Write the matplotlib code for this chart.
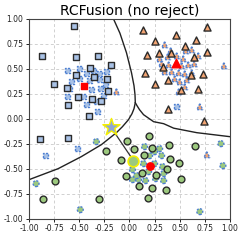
import matplotlib
matplotlib.use("Agg")
import matplotlib.pyplot as plt
import numpy as np

# training points per class
sq_x = [-0.55, -0.87, -0.53, -0.31, -0.18, -0.39, -0.75, -0.53, -0.35, -0.22,
        -0.62, -0.21, -0.51, -0.37, -0.28, -0.61, -0.40, -0.89, -0.61]
sq_y = [0.93, 0.63, 0.62, 0.63, 0.54, 0.51, 0.35, 0.44, 0.42, 0.40,
        0.31, 0.28, 0.22, 0.20, 0.18, 0.14, 0.03, -0.20, -0.19]

tri_x = [0.13, 0.77, 0.25, 0.46, 0.66, 0.77, 0.17, 0.29, 0.41, 0.55, 0.64,
         0.33, 0.15, 0.61, 0.73, 0.25, 0.38, 0.51, 0.68, 0.38, 0.74]
tri_y = [0.89, 0.92, 0.78, 0.84, 0.79, 0.67, 0.64, 0.66, 0.66, 0.73, 0.62,
         0.52, 0.46, 0.44, 0.45, 0.35, 0.39, 0.29, 0.30, 0.10, -0.02]

circ_x = [0.19, -0.02, 0.045, 0.22, 0.39, -0.23, 0.655, 0.14, -0.085, 0.40, 0.49,
          0.37, 0.12, 0.26, -0.035, -0.74, 0.51, 0.09, 0.22, 0.36, -0.86, -0.30, 0.18]
circ_y = [-0.17, -0.22, -0.30, -0.29, -0.26, -0.32, -0.27, -0.36, -0.41, -0.40, -0.44,
          -0.50, -0.54, -0.56, -0.57, -0.62, -0.60, -0.67, -0.69, -0.71, -0.80, -0.80, -0.79]

# predicted points (dashed blue edge)
psq_x = [-0.62, -0.50, -0.43, -0.36, -0.30, -0.23, -0.58, -0.50, -0.40, -0.30, -0.24,
         -0.62, -0.60, -0.46, -0.38, -0.29, -0.26, -0.33, -0.43, -0.32, -0.52, -0.84, 0.47]
psq_y = [0.48, 0.50, 0.45, 0.48, 0.45, 0.47, 0.37, 0.40, 0.38, 0.39, 0.34,
         0.22, 0.30, 0.22, 0.29, 0.30, 0.23, 0.17, 0.14, 0.07, -0.30, -0.37, 0.12]

ptri_x = [0.35, 0.41, 0.56, 0.62, 0.685, 0.30, 0.38, 0.47, 0.535, 0.32, 0.52, 0.585,
          0.645, 0.35, 0.42, 0.49, 0.55, 0.62, 0.45, 0.50, 0.57, 0.49, 0.55, 0.39,
          -0.13, 0.94, 0.70, 0.77]
ptri_y = [0.74, 0.68, 0.68, 0.69, 0.63, 0.60, 0.62, 0.63, 0.60, 0.55, 0.53, 0.54,
          0.55, 0.47, 0.47, 0.46, 0.45, 0.46, 0.40, 0.37, 0.39, 0.27, 0.32, 0.54,
          0.27, 0.53, 0.12, -0.36]

pcirc_x = [0.15, 0.30, 0.25, 0.32, 0.20, 0.14, 0.25, 0.33, 0.03, 0.34, 0.03, 0.16,
           0.34, 0.09, 0.26, 0.07, 0.19, -0.33, -0.93, -0.49, 0.70, 0.91, 0.93]
pcirc_y = [-0.28, -0.30, -0.33, -0.37, -0.37, -0.45, -0.45, -0.48, -0.51, -0.55, -0.61, -0.62,
           -0.62, -0.61, -0.60, -0.57, -0.53, -0.23, -0.65, -0.91, -0.93, -0.25, -0.47]

# class centres
cen_sq = (-0.45, 0.33)
cen_tri = (0.46, 0.555)
cen_circ = (0.205, -0.47)

# query sample and its prototype
star = (-0.185, -0.085)
query = (0.04, -0.42)

# decision boundaries
b1_x = [-0.16, -0.095, -0.03, 0.02, 0.045, 0.055, 0.058, 0.045, 0.025, -0.01, -0.07,
        -0.13, -0.28, -0.48, -0.71, -1.0]
b1_y = [1.0, 0.855, 0.66, 0.46, 0.33, 0.24, 0.16, 0.10, 0.05, -0.01, -0.08,
        -0.14, -0.26, -0.38, -0.50, -0.61]
b2_x = [0.058, 0.075, 0.10, 0.14, 0.24, 0.34, 0.44, 0.67, 1.0]
b2_y = [0.16, 0.13, 0.09, 0.04, -0.03, -0.05, -0.095, -0.14, -0.18]

c_sq = "#a9c2e6"
c_tri = "#f2a472"
c_circ = "#9cc97e"
c_edge = "#2b2b2b"
c_dash = "#4d7fd1"

fig = plt.figure(figsize=(2.4, 2.4), dpi=100)
ax = fig.add_axes([0.121, 0.089, 0.837, 0.833])

ax.plot(b1_x, b1_y, color="#222222", lw=1.0, zorder=2)
ax.plot(b2_x, b2_y, color="#222222", lw=1.0, zorder=2)

dash = (0, (1.5, 1.0))
ax.scatter(psq_x, psq_y, marker="s", s=14, c=c_sq, edgecolors=c_dash, linewidths=1.0, linestyles=dash, zorder=3)
ax.scatter(ptri_x, ptri_y, marker="^", s=18, c=c_tri, edgecolors=c_dash, linewidths=1.0, linestyles=dash, zorder=3)
ax.scatter(pcirc_x, pcirc_y, marker="o", s=18, c=c_circ, edgecolors=c_dash, linewidths=1.0, linestyles=dash, zorder=3)

ax.scatter(sq_x, sq_y, marker="s", s=16, c=c_sq, edgecolors=c_edge, linewidths=1.0, zorder=4)
ax.scatter(tri_x, tri_y, marker="^", s=26, c=c_tri, edgecolors=c_edge, linewidths=1.0, zorder=4)
ax.scatter(circ_x, circ_y, marker="o", s=24, c=c_circ, edgecolors=c_edge, linewidths=1.0, zorder=4)

ax.scatter(*cen_sq, marker="s", s=22, c="red", zorder=5)
ax.scatter(*cen_tri, marker="^", s=38, c="red", zorder=5)
ax.scatter(*cen_circ, marker="o", s=28, c="red", zorder=5)

ax.plot([star[0], query[0]], [star[1], query[1]], color="#333333", lw=0.9, zorder=5)
ax.scatter(*query, marker="o", s=60, c=c_circ, edgecolors="#f5f000", linewidths=1.2, zorder=6)
ax.scatter(*star, marker="*", s=170, c="#8ea6d6", edgecolors="#f5f000", linewidths=1.0, zorder=6)

ax.set_xlim(-1.0, 1.0)
ax.set_ylim(-1.0, 1.0)
ticks = [-1.0, -0.75, -0.5, -0.25, 0.0, 0.25, 0.5, 0.75, 1.0]
ax.set_xticks(ticks)
ax.set_yticks(ticks)
ax.set_xticklabels([f"{t:.2f}" for t in ticks])
ax.set_yticklabels([f"{t:.2f}" for t in ticks])
ax.tick_params(labelsize=5.5, length=2.5, width=0.7, pad=1.5, colors="#222222")
ax.grid(True, linestyle=(0, (3, 2.5)), color="#d0d0d0", lw=0.7)
ax.set_axisbelow(True)
for sp in ax.spines.values():
    sp.set_color("#444444")
    sp.set_linewidth(0.8)
ax.set_title("RCFusion (no reject)", fontsize=10, pad=3)

fig.savefig("out.png", dpi=100)
